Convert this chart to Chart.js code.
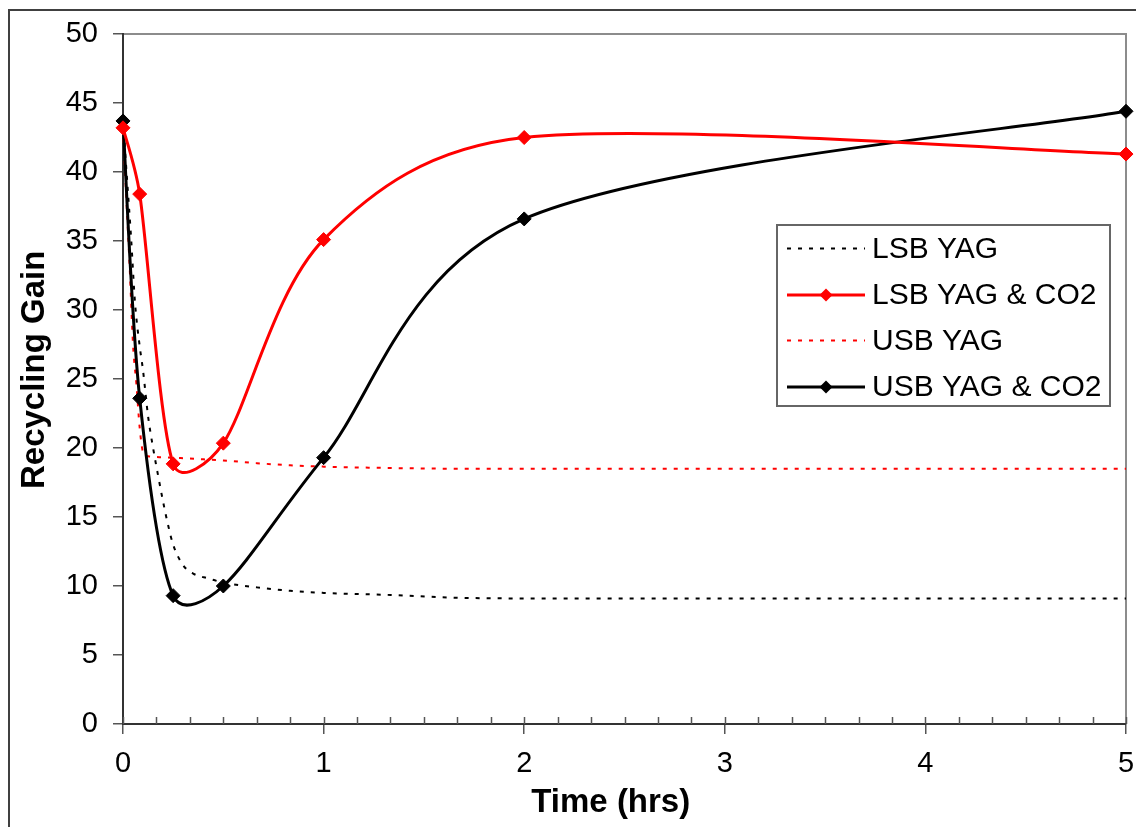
<!DOCTYPE html>
<html>
<head>
<meta charset="utf-8">
<script src="https://cdn.jsdelivr.net/npm/chart.js@4.4.1/dist/chart.umd.min.js"></script>
<style>
  html, body { margin: 0; padding: 0; background: #fff; }
  #wrap { position: relative; width: 1136px; height: 827px; }
</style>
</head>
<body>
<div id="wrap"><canvas id="c" width="1136" height="827"></canvas></div>
<script>
// ---- data ----
const seriesLabels = ['LSB YAG', 'LSB YAG & CO2', 'USB YAG', 'USB YAG & CO2'];

const lsbYagTime = [0, 0.02, 0.04, 0.06, 0.083, 0.1, 0.125, 0.15, 0.175, 0.2, 0.225, 0.25, 0.3, 0.35, 0.425, 0.5, 0.667, 0.833, 1, 1.333, 1.667, 2, 3, 4, 5];
const lsbYagGain = [43.7, 39.5, 35.3, 30.5, 27.4, 25.6, 22.3, 20.0, 18.0, 16.1, 14.4, 13.0, 11.5, 10.9, 10.55, 10.25, 9.9, 9.65, 9.5, 9.35, 9.15, 9.1, 9.1, 9.1, 9.1];

const lsbCo2Time = [0, 0.0833, 0.25, 0.5, 1, 2, 5];
const lsbCo2Gain = [43.2, 38.4, 18.85, 20.35, 35.1, 42.5, 41.3];

const usbYagTime = [0, 0.017, 0.033, 0.05, 0.067, 0.083, 0.1, 0.125, 0.2, 0.3, 0.4, 0.5, 0.667, 0.833, 1, 1.333, 1.667, 2, 3, 4, 5];
const usbYagGain = [43.2, 38.0, 33.2, 27.5, 24.6, 21.5, 19.7, 19.4, 19.33, 19.26, 19.18, 19.1, 18.9, 18.75, 18.65, 18.55, 18.5, 18.5, 18.5, 18.5, 18.5];

const usbCo2Time = [0, 0.0833, 0.25, 0.5, 1, 2, 5];
const usbCo2Gain = [43.7, 23.6, 9.3, 10.0, 19.3, 36.6, 44.4];

const xTickValues = [0, 1, 2, 3, 4, 5];
const yTickValues = [0, 5, 10, 15, 20, 25, 30, 35, 40, 45, 50];

const xTitle = 'Time (hrs)';
const yTitle = 'Recycling Gain';

function pts(xs, ys) { return xs.map((x, i) => ({ x: x, y: ys[i] })); }

const FONT = "'Liberation Sans', Arial, sans-serif";
const NB = '\u00a0';

// Spreadsheet-style smoothing: Bezier control points at 1/6 of the neighbour chord
const CAP = 0.42;
const smoothing = {
  id: 'smoothing',
  beforeDatasetsDraw(chart) {
    chart.data.datasets.forEach((ds, di) => {
      if (!ds.sheetSmooth) return;
      const meta = chart.getDatasetMeta(di);
      const P = meta.data;
      const n = P.length;
      for (let i = 0; i < n; i++) {
        const p = P[i];
        const prev = P[Math.max(i - 1, 0)], next = P[Math.min(i + 1, n - 1)];
        const tx = (next.x - prev.x) / 6, ty = (next.y - prev.y) / 6;
        const tl = Math.hypot(tx, ty) || 1;
        let fb = 1, ff = 1;
        if (i > 0) { const seg = Math.hypot(p.x - P[i - 1].x, p.y - P[i - 1].y); fb = Math.min(1, CAP * seg / tl); }
        if (i < n - 1) { const seg = Math.hypot(P[i + 1].x - p.x, P[i + 1].y - p.y); ff = Math.min(1, CAP * seg / tl); }
        p.cp1x = p.x - tx * fb; p.cp1y = p.y - ty * fb;
        p.cp2x = p.x + tx * ff; p.cp2y = p.y + ty * ff;
      }
      meta.dataset._pointsUpdated = true;
      meta.dataset._path = undefined;
    });
  }
};

// outer frame, plot border, x minor ticks, legend
const decor = {
  id: 'decor',
  beforeDraw(chart) {
    const ctx = chart.ctx;
    ctx.save();
    ctx.fillStyle = '#fff';
    ctx.fillRect(0, 0, chart.width, chart.height);
    ctx.strokeStyle = '#404040';
    ctx.lineWidth = 2;
    ctx.beginPath();
    ctx.moveTo(9, 827); ctx.lineTo(9, 10); ctx.lineTo(1136, 10);
    ctx.stroke();
    const a = chart.chartArea;
    ctx.strokeStyle = '#8c8c8c';
    ctx.lineWidth = 2;
    ctx.beginPath();
    ctx.moveTo(a.left, a.top); ctx.lineTo(a.right, a.top); ctx.lineTo(a.right, a.bottom);
    ctx.stroke();
    ctx.restore();
  },
  afterDraw(chart) {
    const ctx = chart.ctx;
    const xs = chart.scales.x;
    const a = chart.chartArea;
    ctx.save();
    ctx.strokeStyle = '#555';
    ctx.lineWidth = 1.5;
    for (let i = 0; i <= 30; i++) {
      const px = Math.round(xs.getPixelForValue(i / 6)) + 0.5;
      ctx.beginPath();
      ctx.moveTo(px, a.bottom - 7);
      ctx.lineTo(px, a.bottom);
      ctx.stroke();
    }
    // legend
    const lx = 777, ly = 225, lw = 333, lh = 181;
    ctx.fillStyle = '#fff';
    ctx.fillRect(lx, ly, lw, lh);
    ctx.strokeStyle = '#666';
    ctx.lineWidth = 2;
    ctx.strokeRect(lx, ly, lw, lh);
    const rows = [248.5, 295, 340.5, 387];
    chart.data.datasets.forEach((ds, i) => {
      const y = rows[i];
      ctx.strokeStyle = ds.borderColor;
      ctx.lineWidth = ds.borderWidth;
      ctx.setLineDash(ds.borderDash || []);
      ctx.beginPath();
      ctx.moveTo(787, y); ctx.lineTo(865, y);
      ctx.stroke();
      ctx.setLineDash([]);
      if (ds.pointRadius > 0) {
        ctx.fillStyle = ds.pointBackgroundColor;
        const r = 6.5;
        const cx = 826;
        ctx.beginPath();
        ctx.moveTo(cx, y - r); ctx.lineTo(cx + r, y); ctx.lineTo(cx, y + r); ctx.lineTo(cx - r, y);
        ctx.closePath();
        ctx.fill();
      }
      ctx.fillStyle = '#000';
      ctx.font = '30px ' + FONT;
      ctx.textBaseline = 'middle';
      ctx.textAlign = 'left';
      ctx.fillText(ds.label, 872, y + 1);
    });
    ctx.restore();
  }
};

const chart = new Chart(document.getElementById('c'), {
  type: 'scatter',
  data: {
    datasets: [
      {
        label: seriesLabels[0], data: pts(lsbYagTime, lsbYagGain),
        showLine: true, borderColor: '#000', backgroundColor: '#000',
        borderWidth: 2, borderDash: [4, 7], pointRadius: 0, pointHoverRadius: 0,
        cubicInterpolationMode: 'monotone', clip: false, order: 3
      },
      {
        label: seriesLabels[1], data: pts(lsbCo2Time, lsbCo2Gain),
        showLine: true, borderColor: '#ff0000', backgroundColor: '#ff0000',
        pointBackgroundColor: '#ff0000', pointBorderColor: '#ff0000',
        borderWidth: 3, pointStyle: 'rectRot', pointRadius: 7, pointBorderWidth: 1,
        tension: 0.4, sheetSmooth: true, clip: false, order: 1
      },
      {
        label: seriesLabels[2], data: pts(usbYagTime, usbYagGain),
        showLine: true, borderColor: '#ff0000', backgroundColor: '#ff0000',
        borderWidth: 2, borderDash: [4, 7], pointRadius: 0, pointHoverRadius: 0,
        cubicInterpolationMode: 'monotone', clip: false, order: 4
      },
      {
        label: seriesLabels[3], data: pts(usbCo2Time, usbCo2Gain),
        showLine: true, borderColor: '#000', backgroundColor: '#000',
        pointBackgroundColor: '#000', pointBorderColor: '#000',
        borderWidth: 3, pointStyle: 'rectRot', pointRadius: 7, pointBorderWidth: 1,
        tension: 0.4, sheetSmooth: true, clip: false, order: 2
      }
    ]
  },
  options: {
    responsive: false,
    animation: false,
    devicePixelRatio: 1,
    layout: { padding: { left: 0, right: 10, top: 34, bottom: 0 } },
    plugins: { legend: { display: false }, tooltip: { enabled: false } },
    scales: {
      x: {
        type: 'linear', min: 0, max: 5,
        afterBuildTicks: s => { s.ticks = xTickValues.map(v => ({ value: v })); },
        afterFit: s => { s.height = 103; s.paddingLeft = 0; s.paddingRight = 0; },
        ticks: { font: { family: FONT, size: 29 }, color: '#000', padding: 13, maxRotation: 0, autoSkip: false },
        grid: { drawOnChartArea: false, drawTicks: true, tickLength: 10, color: '#555', lineWidth: 1.5 },
        border: { color: '#333', width: 2 },
        title: { display: true, text: xTitle + NB + NB + NB, font: { family: FONT, size: 33, weight: 'bold' }, color: '#000', padding: { top: 0, bottom: 4 } }
      },
      y: {
        type: 'linear', min: 0, max: 50,
        afterBuildTicks: s => { s.ticks = yTickValues.map(v => ({ value: v })); },
        afterFit: s => { s.width = 123; s.paddingTop = 0; s.paddingBottom = 0; },
        ticks: { font: { family: FONT, size: 29 }, color: '#000', padding: 15, autoSkip: false },
        grid: { drawOnChartArea: false, drawTicks: true, tickLength: 10, color: '#555', lineWidth: 1.5 },
        border: { color: '#333', width: 2 },
        title: { display: true, text: NB + NB + yTitle, font: { family: FONT, size: 33, weight: 'bold' }, color: '#000', padding: { top: 15, bottom: 0 } }
      }
    }
  },
  plugins: [smoothing, decor]
});
</script>
</body>
</html>
